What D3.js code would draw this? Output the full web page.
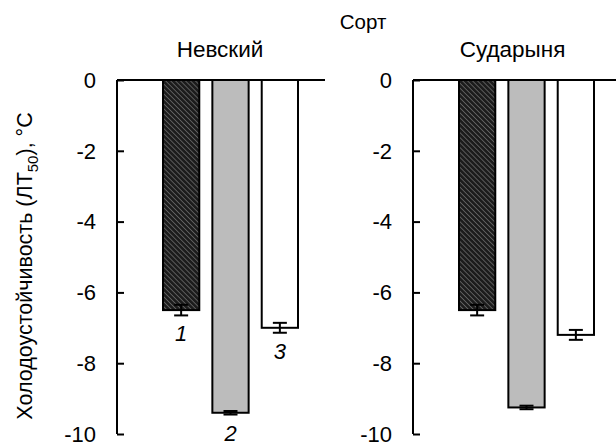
<!DOCTYPE html>
<meta charset="utf-8">
<script src="https://d3js.org/d3.v7.min.js"></script>
<style>
  body { margin: 0; background: #fff; }
  text { font-family: "Liberation Sans", Arial, sans-serif; fill: #000; }
</style>
<div id="chart"></div>
<script>

// data
var varieties = ["Невский", "Сударыня"];
var treatments = ["1", "2", "3"];
var nevskyMeans = [-6.5, -9.4, -7.0];
var nevskyErr = [0.15, 0.05, 0.14];
var sudarMeans = [-6.5, -9.25, -7.2];
var sudarErr = [0.15, 0.05, 0.14];
var yTicks = [0, -2, -4, -6, -8, -10];

var width = 616, height = 446;

var svg = d3.select("#chart")
  .append("svg")
    .attr("width", width)
    .attr("height", height);

// hatch pattern for treatment 1
var defs = svg.append("defs");
var pat = defs.append("pattern")
    .attr("id", "hatch")
    .attr("patternUnits", "userSpaceOnUse")
    .attr("width", 3.5).attr("height", 3.5)
    .attr("patternTransform", "rotate(-45)");
pat.append("rect").attr("width", 3.5).attr("height", 3.5).attr("fill", "#1c1c1c");
pat.append("line")
    .attr("x1", 0).attr("y1", 0).attr("x2", 0).attr("y2", 3.5)
    .attr("stroke", "#8c8c8c").attr("stroke-width", 1.1);

var fills = ["url(#hatch)", "#bcbcbc", "#ffffff"];

var y = d3.scaleLinear().domain([-10, 0]).range([434, 80]);

// one panel per variety
var panels = [
  {name: varieties[0], means: nevskyMeans, err: nevskyErr, axisX: 117, bars: [163, 298], lineEnd: 325, labels: true},
  {name: varieties[1], means: sudarMeans, err: sudarErr, axisX: 413, bars: [459, 594], lineEnd: 616, labels: false}
];

panels.forEach(function(p) {
  var g = svg.append("g");

  var x = d3.scaleBand()
    .domain(treatments)
    .range(p.bars)
    .paddingInner(0.265)
    .paddingOuter(0);

  var data = treatments.map(function(t, i) {
    return {t: t, v: p.means[i], e: p.err[i], fill: fills[i]};
  });

  // bars
  g.selectAll("rect.bar")
    .data(data)
    .enter()
    .append("rect")
      .attr("class", "bar")
      .attr("x", function(d) { return x(d.t); })
      .attr("y", y(0))
      .attr("width", x.bandwidth())
      .attr("height", function(d) { return y(d.v) - y(0); })
      .attr("fill", function(d) { return d.fill; })
      .attr("stroke", "#000")
      .attr("stroke-width", 2);

  // error bars
  var eb = g.selectAll("g.err")
    .data(data)
    .enter()
    .append("g")
      .attr("class", "err")
      .attr("stroke", "#000")
      .attr("stroke-width", 2);
  var cx = function(d) { return x(d.t) + x.bandwidth() / 2; };
  eb.append("line")
    .attr("x1", cx).attr("x2", cx)
    .attr("y1", function(d) { return y(d.v + d.e); })
    .attr("y2", function(d) { return y(d.v - d.e); });
  eb.append("line")
    .attr("x1", function(d) { return cx(d) - 7; }).attr("x2", function(d) { return cx(d) + 7; })
    .attr("y1", function(d) { return y(d.v - d.e); })
    .attr("y2", function(d) { return y(d.v - d.e); });
  eb.append("line")
    .attr("x1", function(d) { return cx(d) - 7; }).attr("x2", function(d) { return cx(d) + 7; })
    .attr("y1", function(d) { return y(d.v + d.e); })
    .attr("y2", function(d) { return y(d.v + d.e); });

  // zero line
  g.append("line")
    .attr("x1", p.axisX).attr("x2", p.lineEnd)
    .attr("y1", y(0)).attr("y2", y(0))
    .attr("stroke", "#000").attr("stroke-width", 2);

  // y axis, ticks pointing inward
  var ax = g.append("g")
    .attr("transform", "translate(" + p.axisX + ",0)")
    .call(d3.axisRight(y).tickValues(yTicks).tickSize(7).tickFormat(""));
  ax.select(".domain").attr("stroke-width", 2).attr("d", "M0," + y(0) + "V" + y(-10));
  ax.selectAll(".tick line").attr("stroke-width", 2);

  g.selectAll("text.tl")
    .data(yTicks)
    .enter()
    .append("text")
      .attr("class", "tl")
      .attr("x", p.axisX - 21)
      .attr("y", function(d) { return y(d); })
      .attr("dy", "0.35em")
      .attr("text-anchor", "end")
      .style("font-size", "22px")
      .text(function(d) { return d; });

  // panel title
  g.append("text")
    .attr("x", (p.axisX + p.lineEnd) / 2 - (p.labels ? 1 : 2))
    .attr("y", 57)
    .attr("text-anchor", "middle")
    .style("font-size", "22.5px")
    .text(p.name);

  // treatment numbers below bars
  if (p.labels) {
    g.selectAll("text.num")
      .data(data)
      .enter()
      .append("text")
        .attr("class", "num")
        .attr("x", cx)
        .attr("y", function(d) { return y(d.v - d.e) + 26; })
        .attr("text-anchor", "middle")
        .style("font-size", "22px")
        .style("font-style", "italic")
        .text(function(d) { return d.t; });
  }
});

// overall title
svg.append("text")
  .attr("x", 363)
  .attr("y", 29)
  .attr("text-anchor", "middle")
  .style("font-size", "20.5px")
  .text("Сорт");

// y label
var yl = svg.append("text")
  .attr("transform", "translate(32,266) rotate(-90)")
  .attr("text-anchor", "middle")
  .style("font-size", "21.5px");
yl.append("tspan").text("Холодоустойчивость (ЛТ");
yl.append("tspan").attr("dy", 6).style("font-size", "15px").text("50");
yl.append("tspan").attr("dy", -6).text("), °С");

</script>
